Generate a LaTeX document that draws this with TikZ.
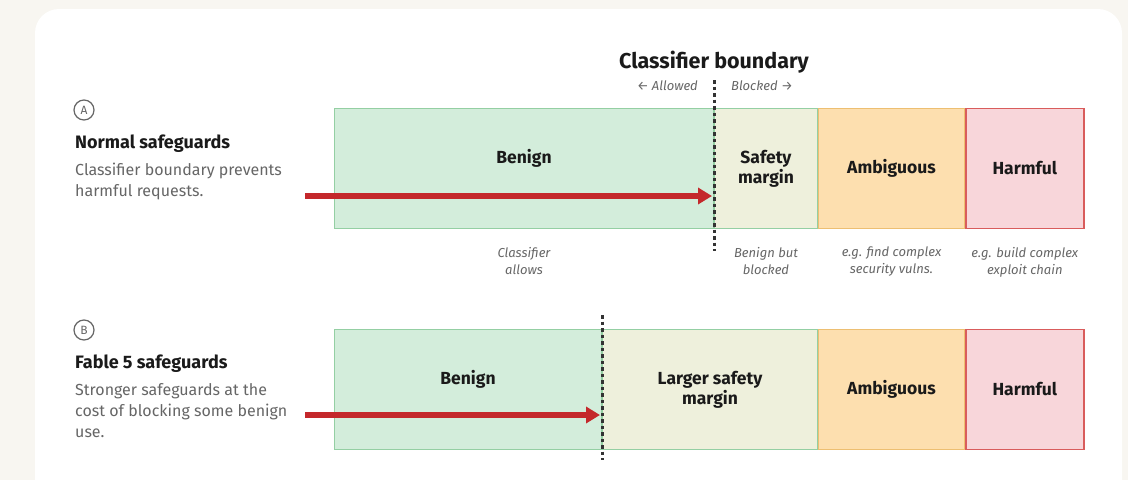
\documentclass[tikz,border=0pt]{standalone}
\usepackage{fontspec}
\setmainfont{Fira Sans}
\usetikzlibrary{arrows.meta, positioning}
\definecolor{pagebg}{HTML}{F8F6F1}
\definecolor{benignfill}{HTML}{D3EDDB}
\definecolor{benignline}{HTML}{94CFA3}
\definecolor{marginfill}{HTML}{EEF0DC}
\definecolor{ambigfill}{HTML}{FDDFAF}
\definecolor{ambigline}{HTML}{EDBF72}
\definecolor{harmfill}{HTML}{F8D6DA}
\definecolor{harmline}{HTML}{D95C5C}
\definecolor{pushred}{HTML}{C4282B}
\definecolor{inkdark}{HTML}{1A1A1A}
\definecolor{inkgray}{HTML}{666666}
\definecolor{cutgray}{HTML}{333333}

\begin{document}
\begin{tikzpicture}[
  x=1pt, y=-1pt, node distance=0pt,
  band/.style={rectangle, line width=1pt, minimum height=120pt, inner sep=0pt,
    align=center, text=inkdark, font=\bfseries\fontsize{17.5}{20}\selectfont},
  benign/.style={band, draw=benignline, fill=benignfill},
  margin/.style={band, draw=benignline, fill=marginfill},
  ambig/.style={band, draw=ambigline, fill=ambigfill, minimum width=146pt},
  harm/.style={band, draw=harmline, fill=harmfill, line width=1.6pt, minimum width=118pt},
  tag/.style={text=inkdark, font=\bfseries\fontsize{17.5}{20}\selectfont},
  note/.style={align=center, text=inkgray, inner sep=0pt, font=\itshape\fontsize{13}{17}\selectfont},
  side/.style={align=left, text=inkgray, inner sep=0pt, anchor=base west, font=\fontsize{16}{21}\selectfont},
  heading/.style={text=inkdark, inner sep=0pt, anchor=base west, font=\bfseries\fontsize{18}{22}\selectfont},
  badge/.style={circle, draw=inkgray, line width=1.2pt, minimum size=20pt, inner sep=0pt,
    text=inkgray, font=\fontsize{12}{12}\selectfont},
  cut/.style={draw=cutgray, line width=3pt, dash pattern=on 3.5pt off 3pt},
  push/.style={draw=pushred, line width=6pt, -{Triangle[length=14pt, width=16pt]}, shorten >=2pt}
]
\useasboundingbox (0,0) rectangle (1128,480);
\clip (0,0) rectangle (1128,480);
\fill[pagebg] (0,0) rectangle (1128,480);
\fill[white, rounded corners=24pt] (35,9) rectangle (1122,530);

% A: normal safeguards
\node[badge] (la) at (84,110) {A};
\node[heading] (ha) at (75,148) {Normal safeguards};
\node[side] (da) at (75,196) {Classifier boundary prevents\\harmful requests.};

\node[benign, minimum width=379pt, anchor=north west] (a1) at (334,108) {};
\node[margin, minimum width=103pt, right=of a1] (a2) {Safety\\margin};
\node[ambig, right=of a2] (a3) {Ambiguous};
\node[harm, right=of a3] (a4) {Harmful};
\node[tag] at ([yshift=10pt]a1.center) {Benign};

\node[note, below=18pt of a1] {Classifier\\allows};
\node[note, below=18pt of a2] {Benign but\\blocked};
\node[note, below=18pt of a3] {e.g. find complex\\security vulns.};
\node[note, below=18pt of a4] {e.g. build complex\\exploit chain};

\coordinate (cuta1) at (714,80);
\coordinate (cuta2) at (714,251);
\draw[cut] (cuta1) -- (cuta2);
\node[font=\bfseries\fontsize{21.5}{24}\selectfont, text=inkdark, anchor=base] (title) at (714,68) {Classifier boundary};
\node[note, anchor=base east] at (698,90) {← Allowed};
\node[note, anchor=base west] at (731,90) {Blocked →};

\coordinate (srca) at (305,196);
\draw[push] (srca) -- (srca -| a2.west);

% B: Fable 5 safeguards
\node[badge] (lb) at (84,330) {B};
\node[heading] (hb) at (75,368) {Fable 5 safeguards};
\node[side] (db) at (75,437) {Stronger safeguards at the\\cost of blocking some benign\\use.};

\node[benign, minimum width=267pt, anchor=north west] (b1) at (334,329) {};
\node[margin, minimum width=215pt, right=of b1] (b2) {Larger safety\\margin};
\node[ambig, right=of b2] (b3) {Ambiguous};
\node[harm, right=of b3] (b4) {Harmful};
\node[tag] at ([yshift=10pt]b1.center) {Benign};

\coordinate (cutb1) at (602,315);
\coordinate (cutb2) at (602,460);
\draw[cut] (cutb1) -- (cutb2);

\coordinate (srcb) at (305,415);
\draw[push] (srcb) -- (srcb -| b2.west);
\end{tikzpicture}
\end{document}
